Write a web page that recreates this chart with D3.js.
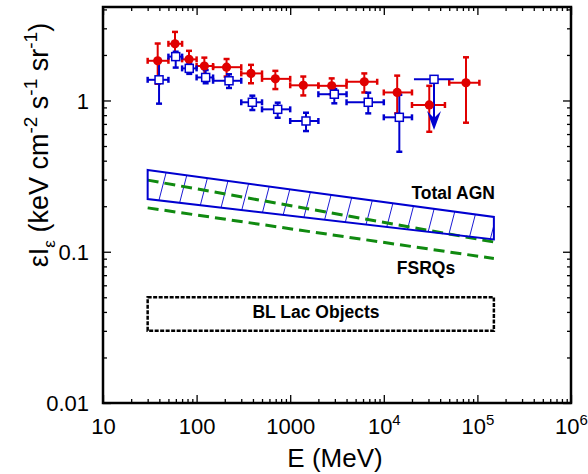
<!DOCTYPE html>
<html>
<meta charset="utf-8">
<script src="https://d3js.org/d3.v7.min.js"></script>
<style>
body{ margin:0; background:white; }
text{ font-family: Arial, "Liberation Sans", sans-serif; }
.lbl{ font-weight: bold; font-size: 17.5px; }
</style>
<body>
<div id="chart"></div>
<script>
// EGRET-like points (red): bin low, bin high, E centre, value, err hi, err lo
var redLo  = [30, 50, 70, 100, 150, 300, 500, 1000, 2000, 4000, 10000, 20000, 50000];
var redHi  = [50, 70, 100, 150, 300, 500, 1000, 2000, 4000, 8500, 20000, 45000, 105000];
var redE   = [38.4, 58.8, 83, 121, 209, 381, 694, 1380, 2775, 6190, 13900, 30600, 75500];
var redV   = [1.83, 2.37, 1.87, 1.69, 1.66, 1.51, 1.39, 1.26, 1.25, 1.33, 1.13, 0.934, 1.31];
var redUp  = [2.38, 2.84, 2.13, 1.92, 1.88, 1.72, 1.57, 1.44, 1.40, 1.51, 1.46, 1.25, 1.93];
var redDn  = [1.29, 2.00, 1.59, 1.48, 1.44, 1.30, 1.19, 1.08, 1.10, 1.13, 0.822, 0.621, 0.713];

// open squares (blue); last one is an upper limit
var bluLo  = [30, 50, 70, 100, 150, 300, 500, 1000, 2000, 4000, 10000, 21000];
var bluHi  = [50, 70, 100, 150, 300, 500, 1000, 2000, 4000, 10000, 20000, 56000];
var bluE   = [39.7, 59.8, 83.5, 125, 222, 394, 735, 1475, 2960, 6820, 14650, 34400];
var bluV   = [1.37, 1.95, 1.63, 1.42, 1.35, 0.973, 0.874, 0.732, 1.10, 0.973, 0.774, 1.38];
var bluUp  = [1.85, 2.10, 1.77, 1.59, 1.49, 1.076, 0.967, 0.830, 1.19, 1.126, 1.09, 1.38];
var bluDn  = [0.953, 1.65, 1.50, 1.30, 1.21, 0.865, 0.769, 0.628, 0.958, 0.822, 0.458, 0.638];
var bluLimit = [false, false, false, false, false, false, false, false, false, false, false, true];

// model bands
var bandE      = [30, 150000];
var agnTop     = [0.347, 0.170];
var agnBottom  = [0.223, 0.1205];
var fsrqTop    = [0.2975, 0.116];
var fsrqBottom = [0.195, 0.0902];
var blLacBox   = [0.03, 0.05];

var xTicks = [10, 100, 1000, 1e4, 1e5, 1e6];
var yTicks = [0.01, 0.1, 1];

var W = 588, H = 474;
var pLeft = 103, pRight = 571, pTop = 7, pBottom = 403;
var redCol = "#e00000", bluCol = "#0000d0", grnCol = "#108a10";

var svg = d3.select("#chart").append("svg").attr("width", W).attr("height", H);

var x = d3.scaleLog().domain([10, 1e6]).range([pLeft, pRight]);
var y = d3.scaleLog().domain([0.01, 4.15]).range([pBottom, pTop]);

// minor ticks
var xMinor = [];
for (var d = 10; d < 1e6; d *= 10) for (var k = 2; k < 10; k++) xMinor.push(d * k);
var yMinor = [];
for (var d2 = 0.01; d2 < 4; d2 *= 10) for (var k2 = 2; k2 < 10; k2++) if (d2 * k2 < 4.15) yMinor.push(d2 * k2);

function tickG(axis, tr){
  var g = svg.append("g").attr("transform", tr).call(axis);
  g.select(".domain").remove();
  g.selectAll(".tick line").attr("stroke", "#000").attr("stroke-width", 1.3);
  return g;
}
tickG(d3.axisBottom(x).tickValues(xMinor).tickSize(-4).tickFormat(""), "translate(0," + pBottom + ")");
tickG(d3.axisTop(x).tickValues(xMinor).tickSize(-4).tickFormat(""), "translate(0," + pTop + ")");
tickG(d3.axisTop(x).tickValues(xTicks).tickSize(-8).tickFormat(""), "translate(0," + pTop + ")");
tickG(d3.axisLeft(y).tickValues(yMinor).tickSize(-4).tickFormat(""), "translate(" + pLeft + ",0)");
tickG(d3.axisRight(y).tickValues(yMinor).tickSize(-4).tickFormat(""), "translate(" + pRight + ",0)");
tickG(d3.axisRight(y).tickValues(yTicks).tickSize(-8).tickFormat(""), "translate(" + pRight + ",0)");

var xg = tickG(d3.axisBottom(x).tickValues(xTicks).tickSize(-8).tickFormat(""), "translate(0," + pBottom + ")");
xg.selectAll(".tick").append("text")
  .attr("y", 31).attr("fill", "#000").attr("text-anchor", "middle")
  .style("font-size", "22px")
  .each(function(v){
    var t = d3.select(this);
    var p = Math.round(Math.log10(v));
    if (p <= 3) { t.text(String(v)); }
    else {
      t.append("tspan").text("10");
      t.append("tspan").attr("dy", -9).style("font-size", "15px").text(p);
    }
  });

var yg = tickG(d3.axisLeft(y).tickValues(yTicks).tickSize(-8).tickFormat(""), "translate(" + pLeft + ",0)");
yg.selectAll(".tick").append("text")
  .attr("x", -14).attr("dy", "0.36em").attr("fill", "#000").attr("text-anchor", "end")
  .style("font-size", "22px")
  .text(function(v){ return String(v); });

// frame
svg.append("rect").attr("x", pLeft).attr("y", pTop)
  .attr("width", pRight - pLeft).attr("height", pBottom - pTop)
  .attr("fill", "none").attr("stroke", "#000").attr("stroke-width", 2.5);

// axis titles
svg.append("text").attr("x", 335).attr("y", 467)
  .attr("text-anchor", "middle").style("font-size", "26px").text("E (MeV)");

var yl = svg.append("text").attr("transform", "translate(48,145) rotate(-90)")
  .attr("text-anchor", "middle").style("font-size", "27px");
yl.append("tspan").text("εI");
yl.append("tspan").attr("dy", 7).style("font-size", "17px").text("ε");
yl.append("tspan").attr("dy", -7).text(" (keV cm");
yl.append("tspan").attr("dy", -11).style("font-size", "19px").text("-2");
yl.append("tspan").attr("dy", 11).text(" s");
yl.append("tspan").attr("dy", -11).style("font-size", "19px").text("-1");
yl.append("tspan").attr("dy", 11).text(" sr");
yl.append("tspan").attr("dy", -11).style("font-size", "19px").text("-1");
yl.append("tspan").attr("dy", 11).text(")");

// Total AGN hatched band
var agnPts = [[x(bandE[0]), y(agnTop[0])], [x(bandE[1]), y(agnTop[1])],
              [x(bandE[1]), y(agnBottom[1])], [x(bandE[0]), y(agnBottom[0])]];
svg.append("clipPath").attr("id", "agnClip")
  .append("polygon").attr("points", agnPts.map(function(p){ return p.join(","); }).join(" "));

var hatchE = d3.range(17).map(function(i){ return Math.pow(10, 1.56 + i * 0.228); });
svg.append("g").attr("clip-path", "url(#agnClip)")
  .selectAll("line").data(hatchE).enter().append("line")
  .attr("x1", function(e){ return x(e) - 12; }).attr("y1", 260)
  .attr("x2", function(e){ return x(e) + 14; }).attr("y2", 160)
  .attr("stroke", bluCol).attr("stroke-width", 0.9);

// FSRQ dashed lines
[fsrqTop, fsrqBottom].forEach(function(s){
  svg.append("line")
    .attr("x1", x(bandE[0])).attr("y1", y(s[0]))
    .attr("x2", x(bandE[1])).attr("y2", y(s[1]))
    .attr("stroke", grnCol).attr("stroke-width", 3).attr("stroke-dasharray", "11,6");
});

svg.append("polygon").attr("points", agnPts.map(function(p){ return p.join(","); }).join(" "))
  .attr("fill", "none").attr("stroke", bluCol).attr("stroke-width", 2);

// BL Lac box
svg.append("rect")
  .attr("x", x(bandE[0])).attr("y", y(blLacBox[1]))
  .attr("width", x(bandE[1]) - x(bandE[0])).attr("height", y(blLacBox[0]) - y(blLacBox[1]))
  .attr("fill", "none").attr("stroke", "#000").attr("stroke-width", 2.5).attr("stroke-dasharray", "4,1.5");

svg.append("text").attr("class", "lbl").attr("x", 495).attr("y", 199).attr("text-anchor", "end").text("Total AGN");
svg.append("text").attr("class", "lbl").attr("x", 426).attr("y", 274).attr("text-anchor", "middle").text("FSRQs");
svg.append("text").attr("class", "lbl").attr("x", 316).attr("y", 318).attr("text-anchor", "middle").text("BL Lac Objects");

// error bars
function errBars(lo, hi, E, v, up, dn, col, limit){
  var g = svg.append("g").attr("stroke", col).attr("stroke-width", 2);
  E.forEach(function(e, i){
    var cx = x(e), cy = y(v[i]);
    g.append("line").attr("x1", x(lo[i])).attr("x2", x(hi[i])).attr("y1", cy).attr("y2", cy);
    if (limit && limit[i]) {
      g.append("line").attr("x1", cx).attr("x2", cx).attr("y1", cy).attr("y2", y(dn[i]) - 12);
      svg.append("path")
        .attr("d", "M" + cx + "," + y(dn[i]) + "L" + (cx - 7) + "," + (y(dn[i]) - 19) +
                   "L" + cx + "," + (y(dn[i]) - 12) + "L" + (cx + 7) + "," + (y(dn[i]) - 19) + "Z")
        .attr("fill", col);
    } else {
      g.append("line").attr("x1", cx).attr("x2", cx).attr("y1", y(up[i])).attr("y2", y(dn[i]));
      g.append("line").attr("x1", cx - 3).attr("x2", cx + 3).attr("y1", y(up[i])).attr("y2", y(up[i])).attr("stroke-width", 2.5);
      g.append("line").attr("x1", cx - 3).attr("x2", cx + 3).attr("y1", y(dn[i])).attr("y2", y(dn[i])).attr("stroke-width", 2.5);
      g.append("line").attr("x1", x(lo[i])).attr("x2", x(lo[i])).attr("y1", cy - 3).attr("y2", cy + 3).attr("stroke-width", 2.5);
      g.append("line").attr("x1", x(hi[i])).attr("x2", x(hi[i])).attr("y1", cy - 3).attr("y2", cy + 3).attr("stroke-width", 2.5);
    }
  });
}
errBars(redLo, redHi, redE, redV, redUp, redDn, redCol, null);
errBars(bluLo, bluHi, bluE, bluV, bluUp, bluDn, bluCol, bluLimit);

svg.append("g").selectAll("circle").data(redE).enter().append("circle")
  .attr("cx", function(e){ return x(e); })
  .attr("cy", function(e, i){ return y(redV[i]); })
  .attr("r", 4.6).attr("fill", redCol);

svg.append("g").selectAll("rect").data(bluE).enter().append("rect")
  .attr("x", function(e){ return x(e) - 4; })
  .attr("y", function(e, i){ return y(bluV[i]) - 4; })
  .attr("width", 8).attr("height", 8)
  .attr("fill", "white").attr("stroke", bluCol).attr("stroke-width", 1.5);
</script>
</body>
</html>
